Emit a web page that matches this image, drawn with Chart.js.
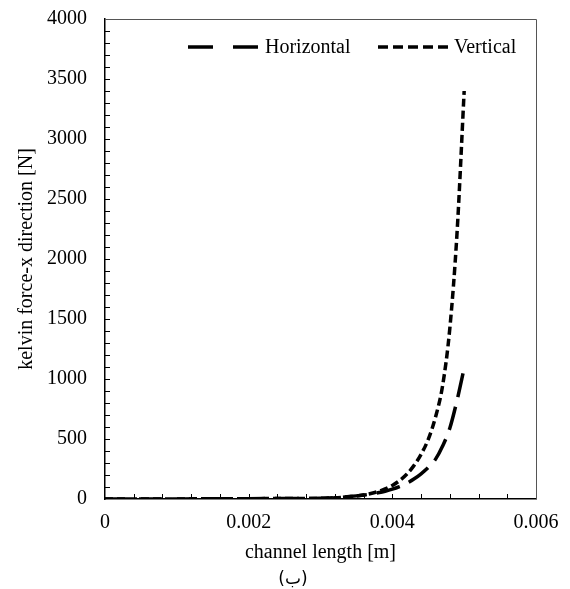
<!DOCTYPE html>
<html>
<head>
<meta charset="utf-8">
<script src="https://cdn.jsdelivr.net/npm/chart.js@4"></script>
<style>
    html, body { margin: 0; padding: 0; background: #fff; }
    canvas { display: block; }
</style>
</head>
<body>
<canvas id="chart" width="570" height="589"></canvas>
<script>
/* ── data ── */
const channelX = [0, 0.0005, 0.001, 0.0015, 0.002, 0.0025, 0.003, 0.0031, 0.0032, 0.0033, 0.0034, 0.0035,
    0.0036, 0.0037, 0.0038, 0.0039, 0.004, 0.0041, 0.0042, 0.0043, 0.0044, 0.0045, 0.0046, 0.0047,
    0.0048, 0.0049, 0.005];
const horizontal = [0.2, 0.4, 0.8, 1.5, 2.5, 4, 6, 8, 11, 15, 20, 26,
    33, 41, 52, 65, 82, 104, 131, 166, 210, 262, 330, 441,
    590, 820, 1090];
const vertical = [0.2, 0.4, 0.8, 1.5, 2.5, 4, 5.5, 7.5, 10, 14, 19, 25,
    34, 46, 62, 84, 113, 153, 206, 278, 372, 497, 680, 945,
    1420, 2210, 3400];
const seriesNames = ['Horizontal', 'Vertical'];
const xTicks = [0, 0.002, 0.004, 0.006];
const yTicks = [0, 500, 1000, 1500, 2000, 2500, 3000, 3500, 4000];

const FONT = '"Liberation Serif", "Times New Roman", serif';
const toPoints = ys => ys.map((y, i) => ({ x: channelX[i], y }));

// box, inward minor ticks, in-plot legend and the caption
const extras = {
    id: 'extras',
    afterDraw(chart) {
        const { ctx, chartArea: a, scales: { x, y } } = chart;
        ctx.save();

        ctx.strokeStyle = '#555';
        ctx.lineWidth = 1;
        ctx.beginPath();
        ctx.moveTo(a.left, a.top + 0.5);
        ctx.lineTo(a.right + 0.5, a.top + 0.5);
        ctx.lineTo(a.right + 0.5, a.bottom);
        ctx.stroke();

        ctx.strokeStyle = '#000';
        ctx.beginPath();
        for (let v = 100; v < 4000; v += 100) {
            const py = Math.round(y.getPixelForValue(v)) + 0.5;
            ctx.moveTo(a.left, py); ctx.lineTo(a.left + 5, py);
        }
        for (let k = 1; k < 15; k++) {
            const px = Math.round(x.getPixelForValue(k * 0.0004)) + 0.5;
            ctx.moveTo(px, a.bottom); ctx.lineTo(px, a.bottom - 5);
        }
        ctx.stroke();

        // legend
        const ly = 47;
        const items = [
            { x0: 188, x1: 258, tx: 265, ds: chart.data.datasets[0], dash: [25, 20] },
            { x0: 378, x1: 448, tx: 454, ds: chart.data.datasets[1], dash: [10, 5] }
        ];
        ctx.font = '20px ' + FONT;
        ctx.textBaseline = 'middle';
        ctx.fillStyle = '#000';
        items.forEach(it => {
            ctx.lineWidth = 3.5;
            ctx.setLineDash(it.dash);
            ctx.beginPath();
            ctx.moveTo(it.x0, ly); ctx.lineTo(it.x1, ly);
            ctx.stroke();
            ctx.setLineDash([]);
            ctx.fillText(it.ds.label, it.tx, ly + 1);
        });

        ctx.font = '17px "DejaVu Sans", sans-serif';
        ctx.textAlign = 'center';
        ctx.fillText('(ب)', 293, 580);
        ctx.restore();
    }
};

new Chart(document.getElementById('chart'), {
    type: 'line',
    data: {
        datasets: [
            { label: seriesNames[0], data: toPoints(horizontal), borderColor: '#000', borderWidth: 3.5,
              borderDash: [24, 10], pointRadius: 0, cubicInterpolationMode: 'monotone', fill: false },
            { label: seriesNames[1], data: toPoints(vertical), borderColor: '#000', borderWidth: 3.5,
              borderDash: [8, 4], pointRadius: 0, cubicInterpolationMode: 'monotone', fill: false }
        ]
    },
    options: {
        responsive: false,
        animation: false,
        layout: { padding: { left: 15, right: 34, top: 19, bottom: 24 } },
        plugins: { legend: { display: false }, tooltip: { enabled: false } },
        scales: {
            x: {
                type: 'linear', min: 0, max: 0.006,
                afterBuildTicks: s => { s.ticks = xTicks.map(v => ({ value: v })); },
                ticks: { padding: 0, color: '#000', font: { family: FONT, size: 20 }, maxRotation: 0,
                         callback: v => String(v) },
                grid: { display: false, drawTicks: true, tickLength: 12 },
                border: { display: true, color: '#000', width: 1.5 },
                title: { display: true, text: 'channel length [m]', color: '#000',
                         font: { family: FONT, size: 20 }, padding: { top: 6, bottom: 0 } }
            },
            y: {
                type: 'linear', min: 0, max: 4000,
                afterBuildTicks: s => { s.ticks = yTicks.map(v => ({ value: v })); },
                ticks: { padding: 0, color: '#000', font: { family: FONT, size: 20 },
                         callback: v => String(v) },
                grid: { display: false, drawTicks: true, tickLength: 18 },
                border: { display: true, color: '#000', width: 1.5 },
                title: { display: true, text: 'kelvin force-x direction [N]', color: '#000',
                         font: { family: FONT, size: 20 }, padding: { top: 0, bottom: 8 } }
            }
        }
    },
    plugins: [extras]
});
</script>
</body>
</html>
